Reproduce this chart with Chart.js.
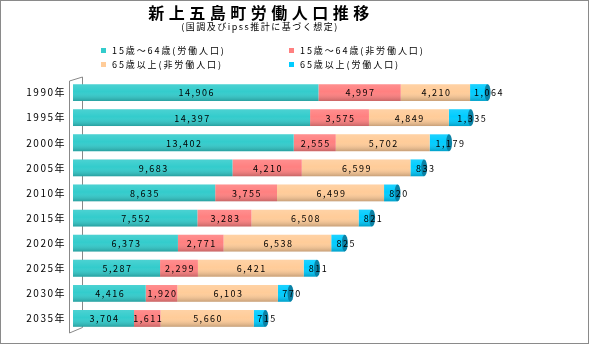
<!DOCTYPE html>
<html>
<head>
<meta charset="utf-8">
<script src="https://cdn.jsdelivr.net/npm/chart.js@4/dist/chart.umd.min.js"></script>
<style>
  body { margin: 0; background: #fff; }
  #wrap { position: relative; width: 589px; height: 344px; font-family: "Noto Sans CJK JP", sans-serif; }
  #frame { position: absolute; left: 0; top: 0; width: 589px; height: 344px; box-sizing: border-box; border: 1px solid #8a8a8a; pointer-events: none; }
  #title { position: absolute; left: 0; width: 522px; top: 4px; text-align: center; font-size: 16px; line-height: 16px; font-weight: bold; letter-spacing: 4.5px; color: #000; }
  #subtitle { position: absolute; left: 0; width: 520px; top: 22px; text-align: center; font-size: 9px; line-height: 10px; letter-spacing: 1.5px; color: #000; }
  #legend { position: absolute; left: 101px; top: 46px; display: grid; grid-template-columns: 188px 160px; row-gap: 4px; }
  #legend .item { display: flex; align-items: center; font-size: 9px; line-height: 9.5px; letter-spacing: 1.9px; color: #000; white-space: nowrap; }
  #legend .box { width: 5px; height: 5px; margin-right: 6px; }
  canvas { position: absolute; left: 0; top: 0; }
</style>
</head>
<body>
<div id="wrap">
  <canvas id="graph" width="589" height="344"></canvas>
  <div id="title">新上五島町労働人口推移</div>
  <div id="subtitle">(国調及びipss推計に基づく想定)</div>
  <div id="legend"></div>
  <div id="frame"></div>
</div>
<script>
const years = ['1990年', '1995年', '2000年', '2005年', '2010年', '2015年', '2020年', '2025年', '2030年', '2035年']
const working = [14906, 14397, 13402, 9683, 8635, 7552, 6373, 5287, 4416, 3704]
const nonWorking = [4997, 3575, 2555, 4210, 3755, 3283, 2771, 2299, 1920, 1611]
const elderNonWorking = [4210, 4849, 5702, 6599, 6499, 6508, 6538, 6421, 6103, 5660]
const elderWorking = [1064, 1335, 1179, 833, 820, 821, 825, 811, 770, 715]

const seriesNames = ['15歳～64歳(労働人口)', '15歳～64歳(非労働人口)', '65歳以上(非労働人口)', '65歳以上(労働人口)']
const seriesColors = ['#33cccc', '#ff8080', '#ffcc99', '#00ccff']

// 3D-ish frame left of the bars
const framePlugin = {
  id: 'frame',
  beforeDraw(chart) {
    chart.ctx.letterSpacing = '1.5px'
  },
  beforeDatasetsDraw(chart) {
    const {ctx, chartArea: a} = chart
    ctx.save()
    ctx.strokeStyle = '#888'
    ctx.lineWidth = 1
    ctx.beginPath()
    ctx.moveTo(a.left - 3.5, a.top + 1)
    ctx.lineTo(a.left + 9.5, a.top - 3)
    ctx.lineTo(a.left + 9.5, a.bottom - 3.5)
    ctx.moveTo(a.left - 3.5, a.top + 1)
    ctx.lineTo(a.left - 3.5, a.bottom + 2)
    ctx.lineTo(a.left + 9.5, a.bottom - 3.5)
    ctx.stroke()
    ctx.restore()
  }
}

// shading, end caps and value labels
const barDeco = {
  id: 'barDeco',
  afterDatasetsDraw(chart) {
    const ctx = chart.ctx
    ctx.save()
    chart.data.datasets.forEach((ds, di) => {
      chart.getDatasetMeta(di).data.forEach(bar => {
        const h = bar.height
        const top = bar.y - h / 2
        const g = ctx.createLinearGradient(0, top, 0, top + h)
        g.addColorStop(0, 'rgba(255,255,255,0.12)')
        g.addColorStop(0.45, 'rgba(255,255,255,0)')
        g.addColorStop(1, 'rgba(0,0,0,0.22)')
        ctx.fillStyle = g
        ctx.fillRect(bar.base, top, bar.x - bar.base, h)
      })
    })
    // cylinder cap at the end of each bar
    const last = chart.getDatasetMeta(3).data
    last.forEach(bar => {
      ctx.beginPath()
      ctx.ellipse(bar.x, bar.y, 3, bar.height / 2, 0, 0, Math.PI * 2)
      ctx.fillStyle = '#0a82a6'
      ctx.fill()
    })
    ctx.font = '9px "Noto Sans CJK JP", sans-serif'
    ctx.fillStyle = '#000'
    ctx.textAlign = 'center'
    ctx.textBaseline = 'middle'
    chart.data.datasets.forEach((ds, di) => {
      chart.getDatasetMeta(di).data.forEach((bar, i) => {
        const txt = ds.data[i].toLocaleString('en-US')
        const x = di === 3 ? bar.x + 1.5 : (bar.x + bar.base) / 2 + 1
        ctx.fillText(txt, x, bar.y + 0.5)
      })
    })
    ctx.restore()
  }
}

const chart = new Chart(document.getElementById('graph'), {
  type: 'bar',
  data: {
    labels: years,
    datasets: [working, nonWorking, elderNonWorking, elderWorking].map((d, i) => ({
      label: seriesNames[i],
      data: d,
      backgroundColor: seriesColors[i],
      borderWidth: 0,
      barPercentage: 0.67,
      categoryPercentage: 1
    }))
  },
  options: {
    indexAxis: 'y',
    responsive: false,
    animation: false,
    layout: { padding: { top: 80, bottom: 13, left: 0, right: 22 } },
    plugins: {
      legend: { display: false },
      tooltip: { enabled: false }
    },
    scales: {
      x: { stacked: true, min: 0, max: 30000, display: false },
      y: {
        stacked: true,
        grid: { display: false, drawTicks: false },
        border: { display: false },
        ticks: { color: '#000', padding: 7, font: { family: '"Noto Sans CJK JP"', size: 10 } },
        afterFit(s) { s.width = 73 }
      }
    }
  },
  plugins: [framePlugin, barDeco]
})

// html legend in two columns
const legendEl = document.getElementById('legend')
chart.data.datasets.forEach(ds => {
  const item = document.createElement('div')
  item.className = 'item'
  const box = document.createElement('span')
  box.className = 'box'
  box.style.background = ds.backgroundColor
  item.appendChild(box)
  item.appendChild(document.createTextNode(ds.label))
  legendEl.appendChild(item)
})
</script>
</body>
</html>
